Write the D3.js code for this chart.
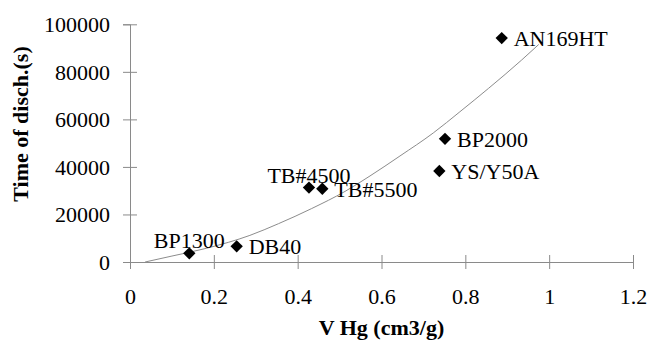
<!DOCTYPE html>
<html>
<head>
<meta charset="utf-8">
<script src="https://cdn.jsdelivr.net/npm/d3@7"></script>
<style>
  html, body { margin: 0; padding: 0; background: #fff; }
  svg { display: block; }
  svg text { font-family: "Liberation Serif", "Times New Roman", Times, serif !important; }
</style>
</head>
<body>
<svg id="chart" width="648" height="345"></svg>
<script>
// ---- Data ----
const names = ["BP1300", "DB40", "TB#4500", "TB#5500", "YS/Y50A", "BP2000", "AN169HT"];
const vHg = [0.1415, 0.2545, 0.427, 0.4588, 0.738, 0.7515, 0.8868];
const tDisch = [3650, 6600, 31300, 30800, 38300, 51800, 94200];
const labelSide = ["above", "right", "above", "right", "right", "right", "right"];

// trend line
const trendX = [0.036, 0.1, 0.183, 0.286, 0.354, 0.4335, 0.513, 0.5726, 0.644, 0.7236, 0.787, 0.855, 0.9345, 0.975];
const trendY = [0, 2500, 5800, 11200, 16100, 22500, 29700, 36200, 44600, 54300, 63200, 73000, 85000, 91500];

const xTicks = [0, 0.2, 0.4, 0.6, 0.8, 1, 1.2];
const yTicks = [0, 20000, 40000, 60000, 80000, 100000];
const xTitle = "V Hg (cm3/g)";
const yTitle = "Time of disch.(s)";

// ---- Layout ----
const svg = d3.select("#chart");
const x = d3.scaleLinear().domain([0, 1.2]).range([130, 633]);
const y = d3.scaleLinear().domain([0, 100000]).range([262, 24.3]);
const axisColor = "#8a8a8a";
const fontSize = 22;

// x axis
const gx = svg.append("g").attr("transform", `translate(0,${y(0)})`)
  .call(d3.axisBottom(x).tickValues(xTicks).tickFormat(d => String(d)).tickSizeOuter(0).tickSize(7));
gx.attr("font-family", null).attr("font-size", null);
gx.select(".domain").attr("stroke", axisColor);
gx.selectAll(".tick line").attr("stroke", axisColor).attr("y1", -7).attr("y2", 7);
gx.selectAll(".tick text").attr("y", 42).attr("dy", null)
  .attr("font-size", fontSize).attr("fill", "#000");

// y axis
const gy = svg.append("g").attr("transform", `translate(${x(0)},0)`)
  .call(d3.axisLeft(y).tickValues(yTicks).tickFormat(d => String(d)).tickSizeOuter(0).tickSize(7).tickPadding(13));
gy.attr("font-family", null).attr("font-size", null);
gy.select(".domain").attr("stroke", axisColor);
gy.selectAll(".tick line").attr("stroke", axisColor).attr("x1", 7).attr("x2", -7);
gy.selectAll(".tick text").attr("dy", "0.34em")
  .attr("font-size", fontSize).attr("fill", "#000");

// trend line
const trend = trendX.map((v, i) => [v, trendY[i]]);
svg.append("path")
  .datum(trend)
  .attr("fill", "none")
  .attr("stroke", "#8c8c8c")
  .attr("stroke-width", 1)
  .attr("d", d3.line().x(d => x(d[0])).y(d => y(d[1])).curve(d3.curveMonotoneX));

// points
const pts = names.map((n, i) => ({ name: n, vx: vHg[i], vy: tDisch[i], side: labelSide[i] }));
svg.append("g").selectAll("path")
  .data(pts).join("path")
  .attr("transform", d => `translate(${x(d.vx)},${y(d.vy)}) rotate(45)`)
  .attr("d", d3.symbol(d3.symbolSquare, 76)())
  .attr("fill", "#000");

// labels
svg.append("g").selectAll("text")
  .data(pts).join("text")
  .attr("x", d => d.side === "right" ? x(d.vx) + 12 : x(d.vx))
  .attr("y", d => d.side === "right" ? y(d.vy) + 8 : y(d.vy) - 5)
  .attr("text-anchor", d => d.side === "right" ? "start" : "middle")
  .attr("font-size", fontSize)
  .attr("fill", "#000")
  .text(d => d.name);

// axis titles
svg.append("text")
  .attr("x", (x(0) + x(1.2)) / 2)
  .attr("y", 335)
  .attr("text-anchor", "middle")
  .attr("font-size", fontSize)
  .attr("font-weight", "bold")
  .text(xTitle);

svg.append("text")
  .attr("transform", "translate(28,124) rotate(-90)")
  .attr("text-anchor", "middle")
  .attr("font-size", fontSize)
  .attr("font-weight", "bold")
  .text(yTitle);
</script>
</body>
</html>
